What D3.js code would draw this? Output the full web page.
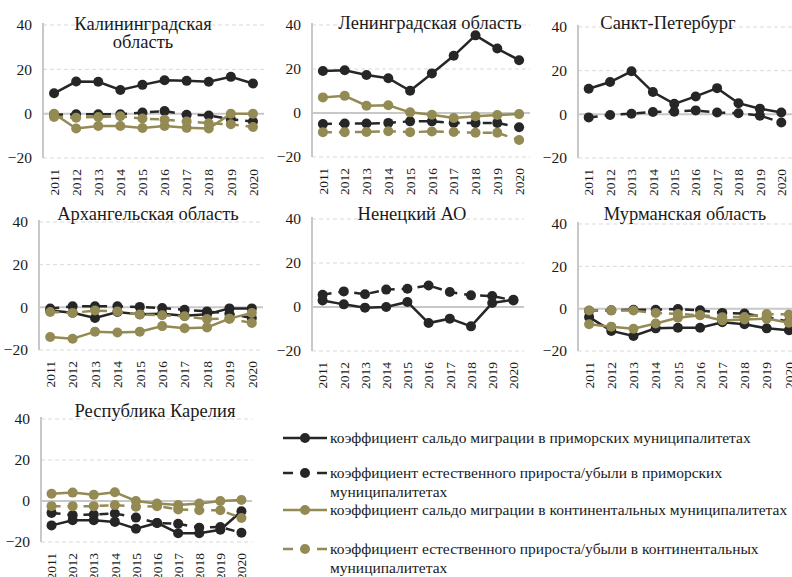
<!DOCTYPE html>
<html>
<head>
<meta charset="utf-8">
<script src="https://cdn.jsdelivr.net/npm/d3@7"></script>
<style>
  body { margin: 0; background: #fff; }
  .grid line { stroke: #d9d9d9; stroke-width: 1; stroke-dasharray: 4,3; }
  .zero { stroke: #c8c8c8; stroke-width: 2; }
</style>
</head>
<body>
<svg width="792" height="577"></svg>
<script>
'use strict';

const FONT = "Liberation Serif";

const years = [2011, 2012, 2013, 2014, 2015, 2016, 2017, 2018, 2019, 2020];
const yTicks = [-20, 0, 20, 40];

const seriesNames = [
  ["коэффициент сальдо миграции в приморских муниципалитетах"],
  ["коэффициент естественного прироста/убыли в приморских", "муниципалитетах"],
  ["коэффициент сальдо миграции в континентальных муниципалитетах"],
  ["коэффициент естественного прироста/убыли в континентальных", "муниципалитетах"]
];

// Калининградская область
const kalMigSea  = [9.2, 14.5, 14.4, 10.7, 13.0, 15.1, 14.8, 14.4, 16.6, 13.6];
const kalNatSea  = [-0.5, -0.3, -0.3, -0.3, 0.5, 1.2, -0.5, -0.8, -2.5, -3.5];
const kalMigLand = [0.0, -6.7, -5.6, -5.6, -6.5, -5.6, -6.4, -6.7, 0.0, 0.0];
const kalNatLand = [-1.5, -1.8, -1.5, -1.2, -2.2, -2.7, -3.5, -4.3, -4.8, -6.0];

// Ленинградская область
const lenMigSea  = [19.1, 19.4, 17.3, 15.8, 10.1, 18.0, 26.0, 35.3, 29.3, 24.0];
const lenNatSea  = [-5.0, -4.8, -4.8, -4.5, -3.8, -3.8, -4.5, -4.5, -4.5, -6.5];
const lenMigLand = [7.1, 7.8, 3.3, 3.5, 0.3, -0.8, -2.3, -1.5, -0.9, -0.5];
const lenNatLand = [-8.7, -8.7, -8.6, -8.3, -8.7, -8.4, -8.6, -9.0, -9.0, -12.3];

// Санкт-Петербург
const spbMigSea  = [11.7, 14.8, 19.7, 10.2, 4.8, 8.2, 12.0, 5.1, 2.6, 0.8];
const spbNatSea  = [-1.4, -0.3, 0.3, 1.1, 1.2, 1.8, 0.8, 0.5, -0.6, -3.7];

// Архангельская область
const arkMigSea  = [-1.5, -2.5, -5.0, -2.2, -3.3, -3.0, -4.0, -3.2, -0.5, -0.5];
const arkNatSea  = [-0.6, 0.5, 0.5, 0.5, 0.2, -0.3, -1.1, -1.9, -3.0, -5.0];
const arkMigLand = [-13.9, -14.7, -11.4, -11.8, -11.4, -8.8, -9.8, -9.4, -5.3, -2.6];
const arkNatLand = [-2.2, -2.6, -1.5, -1.9, -3.4, -3.7, -4.2, -5.5, -5.3, -7.3];

// Ненецкий АО
const nenMigSea  = [3.0, 1.2, -0.3, 0.0, 2.3, -7.3, -5.3, -8.8, 1.8, 3.3];
const nenNatSea  = [5.6, 7.1, 5.8, 7.9, 8.3, 9.8, 6.8, 5.3, 5.0, 3.0];

// Мурманская область
const murMigSea  = [-4.0, -10.5, -12.9, -9.3, -9.0, -9.0, -6.4, -7.4, -9.3, -10.2];
const murNatSea  = [-1.0, -0.8, -0.5, -0.5, -0.2, -0.8, -2.0, -2.3, -4.0, -6.2];
const murMigLand = [-7.4, -8.5, -9.5, -7.0, -4.3, -3.1, -5.6, -5.1, -4.7, -6.7];
const murNatLand = [-0.9, -0.8, -0.9, -2.0, -2.5, -3.1, -4.0, -3.9, -2.5, -2.8];

// Республика Карелия
const karMigSea  = [-11.9, -9.4, -9.4, -10.2, -13.5, -10.7, -15.7, -15.7, -14.0, -5.0];
const karNatSea  = [-5.8, -6.9, -6.6, -6.1, -8.1, -10.7, -11.1, -13.0, -12.7, -15.5];
const karMigLand = [3.5, 4.1, 3.0, 4.3, 0.0, -1.2, -2.0, -1.2, 0.0, 0.5];
const karNatLand = [-2.5, -2.5, -2.5, -2.0, -2.8, -2.5, -4.1, -4.5, -4.5, -8.3];

const styles = [
  {color: "#262626", dash: null},
  {color: "#262626", dash: "9,7"},
  {color: "#948a54", dash: null},
  {color: "#948a54", dash: "9,7"}
];

class Panel {
  constructor(svg, opts) {
    this.svg = svg;
    this.opts = opts;
    this.x = d3.scaleBand().domain(years).range([opts.left, opts.right]);
    this.y = d3.scaleLinear().domain([-20, 40]).range([opts.bottom, opts.top]);
    this.g = svg.append("g");
  }

  draw() {
    this.drawGrid();
    this.drawAxisY();
    this.drawAxisX();
    this.drawTitle();
    this.opts.series.forEach((s, i) => { if (s) this.drawSeries(s, styles[i]); });
  }

  drawGrid() {
    const o = this.opts, y = this.y;
    this.g.append("g").attr("class", "grid")
      .selectAll("line").data(yTicks.filter(d => d !== 0)).join("line")
      .attr("x1", o.left).attr("x2", o.right)
      .attr("y1", d => y(d)).attr("y2", d => y(d));
    this.g.append("line").attr("class", "zero")
      .attr("x1", o.left).attr("x2", o.right)
      .attr("y1", y(0)).attr("y2", y(0));
    this.g.append("line").attr("class", "zero")
      .attr("x1", o.left).attr("x2", o.left)
      .attr("y1", y(40) - 2).attr("y2", y(-20));
  }

  drawAxisY() {
    const ax = this.g.append("g")
      .attr("transform", "translate(" + this.opts.left + ",0)")
      .call(d3.axisLeft(this.y).tickValues(yTicks).tickSize(0).tickPadding(11));
    ax.select(".domain").remove();
    ax.selectAll("text").style("font-size", "15.5px");
  }

  drawAxisX() {
    const ax = this.g.append("g")
      .attr("transform", "translate(0," + this.opts.bottom + ")")
      .call(d3.axisBottom(this.x).tickSize(0));
    ax.select(".domain").remove();
    ax.selectAll("text")
      .style("font-size", "13.5px")
      .attr("transform", "rotate(-90)")
      .attr("text-anchor", "end")
      .attr("x", -11).attr("y", 0).attr("dy", "0.35em");
  }

  drawTitle() {
    const o = this.opts;
    const t = this.g.append("text")
      .attr("text-anchor", "middle")
      .style("font-size", "18.5px")
      .attr("x", o.titleX).attr("y", o.titleY);
    o.title.forEach((line, i) => {
      t.append("tspan").attr("x", o.titleX).attr("dy", i ? 18 : 0).text(line);
    });
  }

  drawSeries(vals, st) {
    const x = this.x, y = this.y, half = x.bandwidth() / 2;
    const pts = years.map((yr, i) => [x(yr) + half, y(vals[i])]);
    this.g.append("path")
      .datum(pts)
      .attr("fill", "none")
      .attr("stroke", st.color)
      .attr("stroke-width", 2.5)
      .attr("stroke-dasharray", st.dash)
      .attr("d", d3.line());
    this.g.append("g").selectAll("circle").data(pts).join("circle")
      .attr("cx", d => d[0]).attr("cy", d => d[1])
      .attr("r", 5).attr("fill", st.color);
  }
}

const svg = d3.select("svg");

const panels = [
  {title: ["Калининградская", "область"], titleX: 143, titleY: 30,
   left: 43, right: 264, top: 25, bottom: 158,
   series: [kalMigSea, kalNatSea, kalMigLand, kalNatLand]},
  {title: ["Ленинградская область"], titleX: 430, titleY: 29,
   left: 312, right: 530, top: 25, bottom: 157,
   series: [lenMigSea, lenNatSea, lenMigLand, lenNatLand]},
  {title: ["Санкт-Петербург"], titleX: 668, titleY: 29,
   left: 578, right: 792, top: 27, bottom: 158,
   series: [spbMigSea, spbNatSea, null, null]},
  {title: ["Архангельская область"], titleX: 148, titleY: 220,
   left: 39, right: 263, top: 222, bottom: 350,
   series: [arkMigSea, arkNatSea, arkMigLand, arkNatLand]},
  {title: ["Ненецкий АО"], titleX: 412, titleY: 220,
   left: 312, right: 524, top: 219, bottom: 351,
   series: [nenMigSea, nenNatSea, null, null]},
  {title: ["Мурманская область"], titleX: 685, titleY: 220,
   left: 578, right: 800, top: 224, bottom: 351,
   series: [murMigSea, murNatSea, murMigLand, murNatLand]},
  {title: ["Республика Карелия"], titleX: 155, titleY: 417,
   left: 41, right: 252, top: 419, bottom: 542,
   series: [karMigSea, karNatSea, karMigLand, karNatLand]}
];

panels.forEach(p => new Panel(svg, p).draw());

// legend
const legendY = [438, 473, 510, 549];
const legend = svg.append("g");
seriesNames.forEach((name, i) => {
  const st = styles[i], ly = legendY[i];
  const row = legend.append("g");
  if (st.dash) {
    row.selectAll("line").data([[283, 293], [317, 327]]).join("line")
      .attr("x1", d => d[0]).attr("x2", d => d[1]).attr("y1", ly).attr("y2", ly)
      .attr("stroke", st.color).attr("stroke-width", 2.5);
  } else {
    row.append("line")
      .attr("x1", 283).attr("x2", 327).attr("y1", ly).attr("y2", ly)
      .attr("stroke", st.color).attr("stroke-width", 2.5);
  }
  row.append("circle").attr("cx", 305).attr("cy", ly).attr("r", 5).attr("fill", st.color);
  const t = row.append("text").attr("x", 330).attr("y", ly + 5).style("font-size", "15.5px");
  name.forEach((line, j) => {
    t.append("tspan").attr("x", 330).attr("dy", j ? 19 : 0).text(line);
  });
});

// all text in serif, as in the source figure
svg.selectAll("text").style("font-family", FONT).style("fill", "#1a1a1a");
</script>
</body>
</html>
